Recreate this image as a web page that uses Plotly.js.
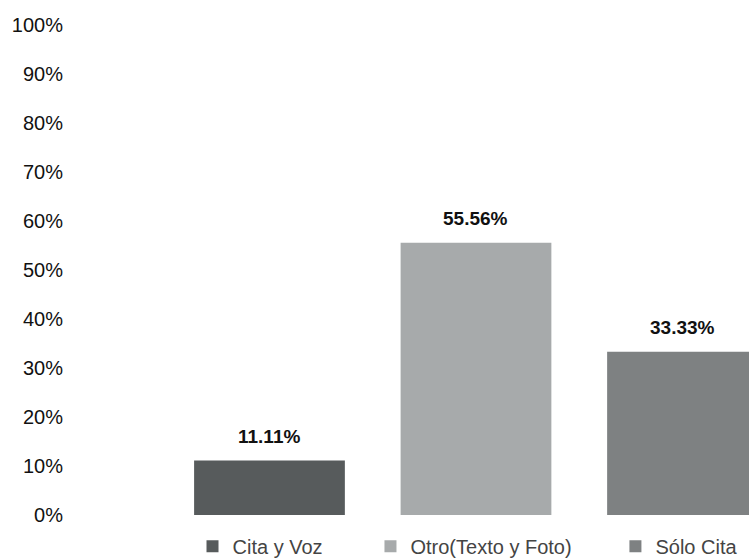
<!DOCTYPE html>
<html>
<head>
<meta charset="utf-8">
<script src="https://cdn.plot.ly/plotly-3.0.1.min.js"></script>
<style>
  html, body { margin: 0; padding: 0; background: #fff; }
  #chart { width: 749px; height: 559px; }
</style>
</head>
<body>
<div id="chart"></div>
<script>
// Tipo de contenido
const categories = ["Cita y Voz", "Otro(Texto y Foto)", "Sólo Cita"];
const shares = [11.11, 55.56, 33.33];
const barColors = ["#575b5c", "#a7aaab", "#7e8182"];
const yTicks = [0, 10, 20, 30, 40, 50, 60, 70, 80, 90, 100];

const font = "Liberation Sans, Arial, sans-serif";
const legendIds = ["legend", "legend2", "legend3"];
const legendX = [0.1876, 0.4474, 0.805];

// one trace per category, each with its own legend placed under its bar
const traces = categories.map((name, i) => ({
  type: "bar",
  name: name,
  x: [i],
  y: [shares[i]],
  width: 0.73,
  marker: { color: barColors[i] },
  legend: legendIds[i],
  hoverinfo: "skip",
}));

const labels = shares.map((v, i) => ({
  x: i,
  y: v,
  text: "<b>" + v.toFixed(2) + "%</b>",
  showarrow: false,
  yanchor: "bottom",
  yshift: 12,
  font: { family: font, size: 19, color: "#111" },
}));

const layout = {
  width: 749,
  height: 559,
  margin: { t: 25, r: 0, b: 44, l: 64, autoexpand: false },
  paper_bgcolor: "#fff",
  plot_bgcolor: "#fff",
  font: { family: font, size: 20, color: "#111" },
  showlegend: true,
  xaxis: {
    range: [-0.995, 2.322],
    showticklabels: false,
    showgrid: false,
    zeroline: false,
    showline: false,
  },
  yaxis: {
    range: [0, 100],
    tickvals: yTicks,
    ticktext: yTicks.map((t) => t + "%"),
    showgrid: false,
    zeroline: false,
    showline: false,
  },
  annotations: labels,
};

legendIds.forEach((id, i) => {
  layout[id] = {
    orientation: "h",
    x: legendX[i],
    xanchor: "left",
    y: -0.024,
    yanchor: "top",
    bgcolor: "rgba(0,0,0,0)",
    font: { family: font, size: 20, color: "#444" },
  };
});

Plotly.newPlot("chart", traces, layout, { displayModeBar: false, staticPlot: true });
</script>
</body>
</html>
